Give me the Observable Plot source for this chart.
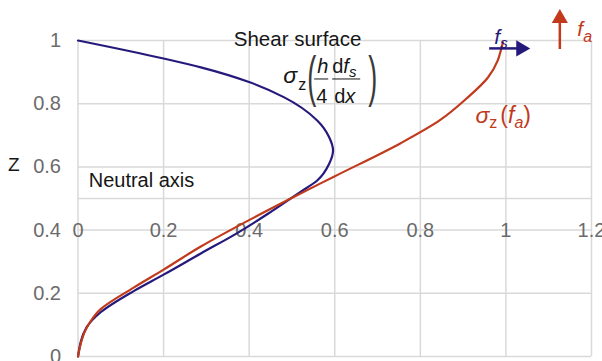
<!DOCTYPE html>
<html>
<head>
<meta charset="utf-8">
<script src="https://cdn.jsdelivr.net/npm/d3@7"></script>
<script src="https://cdn.jsdelivr.net/npm/@observablehq/plot@0.6"></script>
<style>
  html, body { margin: 0; padding: 0; background: #fff; }
  #chart { width: 602px; height: 361px; overflow: hidden; }
</style>
</head>
<body>
<div id="chart"></div>
<script>
// Depth coordinate z (0 = bottom, 1 = top) and the two stress profiles, ordered by z
const axialZ      = [0, 0.09, 0.15, 0.218, 0.275, 0.348, 0.434, 0.5, 0.569, 0.675, 0.747, 0.82, 0.883, 0.937, 0.968, 0.994];
const axialStress = [0, 0.02, 0.053, 0.13, 0.2, 0.287, 0.403, 0.497, 0.598, 0.754, 0.845, 0.911, 0.958, 0.981, 0.988, 0.993];

const shearZ      = [0, 0.092, 0.14, 0.207, 0.259, 0.326, 0.389, 0.451, 0.5, 0.521, 0.557, 0.61, 0.652, 0.694, 0.747, 0.82, 0.867, 0.915, 0.943, 1];
const shearStress = [0, 0.02, 0.053, 0.13, 0.2, 0.287, 0.37, 0.443, 0.497, 0.52, 0.559, 0.587, 0.596, 0.587, 0.559, 0.482, 0.403, 0.287, 0.2, 0];

// Tick values
const xTicks = [0, 0.2, 0.4, 0.6, 0.8, 1, 1.2];
const yTicks = [0, 0.2, 0.4, 0.6, 0.8, 1];
const yGrid  = [0, 0.2, 0.4, 0.5, 0.6, 0.8, 1];
const neutralZ = 0.5;

// Load-direction arrows in the top-right corner (data units)
const shearArrowX = [0.962, 1.03];
const shearArrowZ = 0.975;
const shearHead = [{x: 1.035, z: 0.975}];
const axialArrowX = 1.126;
const axialArrowZ = [0.9715, 1.06];
const axialHead = [{x: 1.126, z: 1.07}];

const RED = "#c13a1c";
const BLUE = "#251a7c";
const GRID = "#d9d9d9";
const TICK = "#6b6b6b";
const INK = "#161616";
const FONT = "'Liberation Sans', Arial, Helvetica, sans-serif";

const axial = axialZ.map((z, i) => ({z, s: axialStress[i]}));
const shear = shearZ.map((z, i) => ({z, s: shearStress[i]}));

const plot = Plot.plot({
  width: 602,
  height: 361,
  marginLeft: 77.5,
  marginRight: 11,
  marginTop: 40,
  marginBottom: 5,
  x: {domain: [0, 1.2], axis: null},
  y: {domain: [0, 1], axis: null},
  style: {fontFamily: FONT, fontSize: "20px", background: "white", overflow: "visible"},
  marks: [
    Plot.ruleX(xTicks, {x: d => d, y1: 0, y2: 1, stroke: GRID, strokeWidth: 1.5}),
    Plot.ruleY(yGrid, {y: d => d, x1: 0, x2: 1.2, stroke: GRID, strokeWidth: 1.5}),
    Plot.text(yTicks, {x: 0, y: d => d, text: d => String(d), textAnchor: "end", dx: -17, fill: TICK, fontSize: 20}),
    Plot.text(xTicks, {x: d => d, y: neutralZ, text: d => String(d), dy: 32, fill: TICK, fontSize: 20}),
    Plot.text(["Z"], {x: -0.15, y: 0.587, text: d => d, lineAnchor: "bottom", fill: INK, fontSize: 19}),
    Plot.text(["Neutral axis"], {x: 0.025, y: 0.535, text: d => d, textAnchor: "start", lineAnchor: "bottom", fill: INK, fontSize: 20}),
    Plot.text(["Shear surface"], {x: 0.364, y: 0.984, text: d => d, textAnchor: "start", lineAnchor: "bottom", fill: INK, fontSize: 20.5}),
    Plot.line(shear, {x: "s", y: "z", stroke: BLUE, strokeWidth: 2.2, curve: "monotone-y"}),
    Plot.line(axial, {x: "s", y: "z", stroke: RED, strokeWidth: 2.2, curve: "monotone-y"}),
    Plot.ruleY([shearArrowZ], {x1: shearArrowX[0], x2: shearArrowX[1], stroke: BLUE, strokeWidth: 2.5}),
    Plot.dot(shearHead, {x: "x", y: "z", symbol: "triangle", r: 6, rotate: 90, fill: BLUE, stroke: "none"}),
    Plot.ruleX([axialArrowX], {y1: axialArrowZ[0], y2: axialArrowZ[1], stroke: RED, strokeWidth: 2.5}),
    Plot.dot(axialHead, {x: "x", y: "z", symbol: "triangle", r: 6, fill: RED, stroke: "none"})
  ]
});

document.getElementById("chart").appendChild(plot);

// Math labels with sub-scripts and a stacked fraction
const X = plot.scale("x"), Y = plot.scale("y");
const svg = d3.select(plot);

// σz (h/4 · dfs/dx) next to the shear curve
const f = svg.append("g")
  .attr("transform", `translate(${X.apply(0.4807)},${Y.apply(0.864)})`)
  .attr("font-family", FONT)
  .attr("text-anchor", "start")
  .attr("fill", INK);
f.append("text").attr("font-size", 23).attr("font-style", "italic").text("σ");
f.append("text").attr("x", 15).attr("y", 7).attr("font-size", 16).text("z");
f.append("text").attr("font-size", 27).attr("fill", "#3a3a3a")
  .attr("transform", "translate(24,12.4) scale(1,2.05)").text("(");
f.append("text").attr("x", 34).attr("y", -10).attr("font-size", 20).attr("font-style", "italic").text("h");
f.append("line").attr("x1", 31).attr("x2", 45).attr("y1", -4).attr("y2", -4).attr("stroke", INK).attr("stroke-width", 1);
f.append("text").attr("x", 33).attr("y", 20).attr("font-size", 20).text("4");
const num = f.append("text").attr("x", 49).attr("y", -10).attr("font-size", 20);
num.append("tspan").text("d");
num.append("tspan").attr("font-style", "italic").text("f");
num.append("tspan").attr("font-style", "italic").attr("font-size", 15).attr("dy", 4).text("s");
f.append("line").attr("x1", 49).attr("x2", 77).attr("y1", -4).attr("y2", -4).attr("stroke", INK).attr("stroke-width", 1);
const den = f.append("text").attr("x", 51).attr("y", 20).attr("font-size", 20);
den.append("tspan").text("d");
den.append("tspan").attr("font-style", "italic").text("x");
f.append("text").attr("font-size", 27).attr("fill", "#3a3a3a")
  .attr("transform", "translate(85,12.4) scale(1,2.05)").text(")");

// σz (fa) next to the axial curve
const a = svg.append("text")
  .attr("x", X.apply(0.93)).attr("y", Y.apply(0.737))
  .attr("text-anchor", "start")
  .attr("font-family", FONT).attr("fill", RED).attr("font-size", 23);
a.append("tspan").attr("font-style", "italic").text("σ");
a.append("tspan").attr("font-size", 16).attr("dy", 5).text("z");
a.append("tspan").attr("dy", -5).attr("dx", 3).text("(");
a.append("tspan").attr("font-style", "italic").text("f");
a.append("tspan").attr("font-style", "italic").attr("font-size", 16).attr("dy", 5).text("a");
a.append("tspan").attr("dy", -5).text(")");

// fs beside the horizontal arrow
const fs = svg.append("text")
  .attr("x", X.apply(0.974)).attr("y", Y.apply(0.987))
  .attr("text-anchor", "start")
  .attr("font-family", FONT).attr("fill", BLUE).attr("font-size", 21).attr("font-style", "italic");
fs.append("tspan").text("f");
fs.append("tspan").attr("font-size", 15).attr("dy", 4).text("s");

// fa beside the vertical arrow
const fa = svg.append("text")
  .attr("x", X.apply(1.168)).attr("y", Y.apply(1.013))
  .attr("text-anchor", "start")
  .attr("font-family", FONT).attr("fill", RED).attr("font-size", 21).attr("font-style", "italic");
fa.append("tspan").text("f");
fa.append("tspan").attr("font-size", 16).attr("dy", 6).text("a");
</script>
</body>
</html>
